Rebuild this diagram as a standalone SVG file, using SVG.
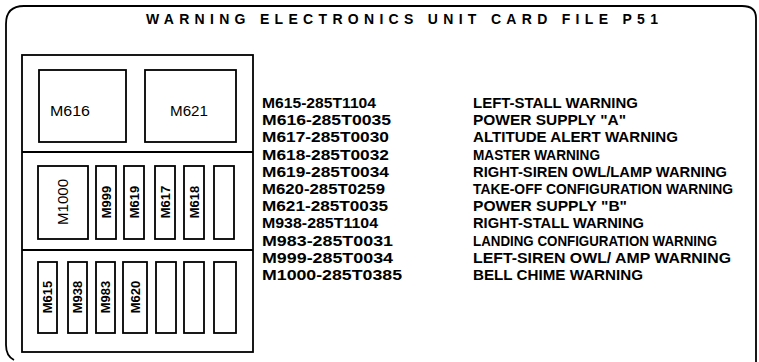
<svg xmlns="http://www.w3.org/2000/svg" width="759" height="362" viewBox="0 0 759 362">
<style>
.ln{fill:none;stroke:#000;stroke-width:1.8}
.bx{fill:#fff;stroke:#000;stroke-width:1.8}
.t{font-family:"Liberation Sans",Arial,sans-serif;font-weight:bold;font-size:14px;fill:#000}
.lb{font-family:"Liberation Sans",Arial,sans-serif;font-size:14px;fill:#000;text-anchor:middle;dominant-baseline:central}
.lbb{font-family:"Liberation Sans",Arial,sans-serif;font-weight:bold;font-size:13px;fill:#000;text-anchor:middle;dominant-baseline:central}
</style>
<rect width="759" height="362" fill="#fff"/>
<g id="frame">
<path class="ln" d="M 14 360 Q 6 356 6 345 L 6 24 Q 6 6 24 6 L 742 6 Q 756 6 756 18 L 756 362"/>
<text class="t" x="146" y="24" textLength="512" lengthAdjust="spacing" font-size="14.5">WARNING ELECTRONICS UNIT CARD FILE P51</text>
</g>
<g id="card-file">
<rect class="ln" x="22" y="55" width="231" height="297"/>
<line class="ln" x1="22" y1="152" x2="253" y2="152"/>
<line class="ln" x1="22" y1="250" x2="253" y2="250"/>
</g>
<g id="M616"><rect class="bx" x="39" y="70" width="87" height="72"/><text class="lb" x="70" y="111" textLength="40" lengthAdjust="spacingAndGlyphs">M616</text></g>
<g id="M621"><rect class="bx" x="145" y="70" width="91" height="72"/><text class="lb" x="189" y="111" textLength="38" lengthAdjust="spacingAndGlyphs">M621</text></g>
<g id="M1000"><rect class="bx" x="38" y="166" width="50" height="73"/><text class="lb" transform="translate(63,202) rotate(-90)" textLength="46" lengthAdjust="spacingAndGlyphs">M1000</text></g>
<g id="M999"><rect class="bx" x="96" y="166" width="20" height="73"/><text class="lbb" transform="translate(106,202) rotate(-90)">M999</text></g>
<g id="M619"><rect class="bx" x="124" y="166" width="20" height="73"/><text class="lbb" transform="translate(134,202) rotate(-90)">M619</text></g>
<g id="M617"><rect class="bx" x="155" y="166" width="20" height="73"/><text class="lbb" transform="translate(165,202) rotate(-90)">M617</text></g>
<g id="M618"><rect class="bx" x="184" y="166" width="20" height="73"/><text class="lbb" transform="translate(194,202) rotate(-90)">M618</text></g>
<g id="slot-2-6"><rect class="bx" x="214" y="166" width="20" height="73"/></g>
<g id="M615"><rect class="bx" x="38" y="262" width="19" height="71"/><text class="lbb" transform="translate(47.5,297) rotate(-90)">M615</text></g>
<g id="M938"><rect class="bx" x="68" y="262" width="19" height="71"/><text class="lbb" transform="translate(77.5,297) rotate(-90)">M938</text></g>
<g id="M983"><rect class="bx" x="96" y="262" width="19" height="71"/><text class="lbb" transform="translate(105.5,297) rotate(-90)">M983</text></g>
<g id="M620"><rect class="bx" x="123" y="262" width="24" height="71"/><text class="lbb" transform="translate(135,297) rotate(-90)">M620</text></g>
<g id="slot-3-5"><rect class="bx" x="156" y="262" width="20" height="71"/></g>
<g id="slot-3-6"><rect class="bx" x="184" y="262" width="20" height="71"/></g>
<g id="slot-3-7"><rect class="bx" x="214" y="262" width="22" height="71"/></g>
<g id="legend">
<text class="t" x="262" y="108" textLength="114" lengthAdjust="spacingAndGlyphs">M615-285T1104</text>
<text class="t" x="262" y="125.2" textLength="129" lengthAdjust="spacingAndGlyphs">M616-285T0035</text>
<text class="t" x="262" y="142.4" textLength="127" lengthAdjust="spacingAndGlyphs">M617-285T0030</text>
<text class="t" x="262" y="159.6" textLength="127" lengthAdjust="spacingAndGlyphs">M618-285T0032</text>
<text class="t" x="262" y="176.8" textLength="127" lengthAdjust="spacingAndGlyphs">M619-285T0034</text>
<text class="t" x="262" y="194" textLength="123" lengthAdjust="spacingAndGlyphs">M620-285T0259</text>
<text class="t" x="262" y="211.2" textLength="126" lengthAdjust="spacingAndGlyphs">M621-285T0035</text>
<text class="t" x="262" y="228.4" textLength="116" lengthAdjust="spacingAndGlyphs">M938-285T1104</text>
<text class="t" x="262" y="245.6" textLength="131" lengthAdjust="spacingAndGlyphs">M983-285T0031</text>
<text class="t" x="262" y="262.8" textLength="131" lengthAdjust="spacingAndGlyphs">M999-285T0034</text>
<text class="t" x="262" y="280" textLength="140" lengthAdjust="spacingAndGlyphs">M1000-285T0385</text>
<text class="t" x="473" y="108" textLength="165" lengthAdjust="spacingAndGlyphs">LEFT-STALL WARNING</text>
<text class="t" x="473" y="125.2" textLength="153" lengthAdjust="spacingAndGlyphs">POWER SUPPLY "A"</text>
<text class="t" x="473" y="142.4" textLength="205" lengthAdjust="spacingAndGlyphs">ALTITUDE ALERT WARNING</text>
<text class="t" x="473" y="159.6" textLength="127" lengthAdjust="spacingAndGlyphs">MASTER WARNING</text>
<text class="t" x="473" y="176.8" textLength="254" lengthAdjust="spacingAndGlyphs">RIGHT-SIREN OWL/LAMP WARNING</text>
<text class="t" x="473" y="194" textLength="260" lengthAdjust="spacingAndGlyphs">TAKE-OFF CONFIGURATION WARNING</text>
<text class="t" x="473" y="211.2" textLength="154" lengthAdjust="spacingAndGlyphs">POWER SUPPLY "B"</text>
<text class="t" x="473" y="228.4" textLength="171" lengthAdjust="spacingAndGlyphs">RIGHT-STALL WARNING</text>
<text class="t" x="473" y="245.6" textLength="244" lengthAdjust="spacingAndGlyphs">LANDING CONFIGURATION WARNING</text>
<text class="t" x="473" y="262.8" textLength="258" lengthAdjust="spacingAndGlyphs">LEFT-SIREN OWL/ AMP WARNING</text>
<text class="t" x="473" y="280" textLength="170" lengthAdjust="spacingAndGlyphs">BELL CHIME WARNING</text>
</g>
</svg>
